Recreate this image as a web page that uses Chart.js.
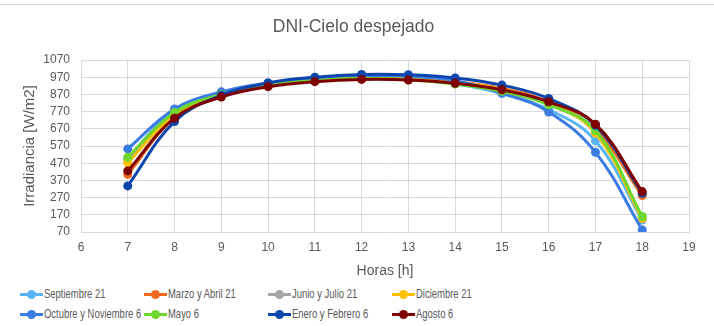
<!DOCTYPE html>
<html>
<head>
<meta charset="utf-8">
<script src="https://cdn.jsdelivr.net/npm/chart.js@4"></script>
<style>
  body { margin: 0; background: #fff; }
  #wrap { position: relative; width: 714px; height: 326px; background: #fff; }
  #topline { position: absolute; left: 0; top: 4px; width: 714px; height: 0; border-top: 1px solid #d9d9d9; }
  #c { position: absolute; left: 0; top: 0; }
  #legend { position: absolute; left: 0; top: 284px; width: 714px; height: 40px;
    font-family: "Liberation Sans", Arial, sans-serif; font-size: 13.5px; color: #595959; }
  .item { position: absolute; height: 20px; line-height: 20px; white-space: nowrap; }
  .mark { position: absolute; left: 0; top: 9px; width: 23px; height: 3px; }
  .dot { position: absolute; left: 7px; top: 6px; width: 9px; height: 9px; border-radius: 50%; }
  .txt { position: absolute; left: 24px; top: 0; transform: scaleX(0.7); transform-origin: left center; }
</style>
</head>
<body>
<div id="wrap">
  <div id="topline"></div>
  <canvas id="c" width="714" height="282"></canvas>
  <div id="legend"></div>
</div>
<script>
// horas del dia
const horas = [7, 8, 9, 10, 11, 12, 13, 14, 15, 16, 17, 18];

const series = ['Septiembre 21', 'Marzo y Abril 21', 'Junio y Julio 21', 'Diciembre 21',
  'Octubre y Noviembre 6', 'Mayo 6', 'Enero y Febrero 6', 'Agosto 6'];

const septiembre21 = [500, 775, 875, 930, 958, 970, 962, 932, 875, 782, 600, 140];
const marzoAbril21 = [405, 735, 860, 920, 950, 964, 960, 943, 905, 826, 665, 282];
const junioJulio21 = [490, 760, 870, 925, 955, 966, 960, 938, 895, 815, 650, 145];
const diciembre21 = [472, 750, 866, 926, 955, 968, 964, 944, 900, 820, 645, 150];
const octubreNov6 = [553, 785, 885, 937, 966, 980, 975, 950, 878, 768, 533, 82];
const mayo6 = [505, 765, 870, 925, 950, 962, 955, 930, 888, 810, 660, 160];
const eneroFebrero6 = [338, 712, 865, 936, 970, 986, 984, 966, 924, 846, 690, 295];
const agosto6 = [425, 732, 855, 915, 944, 957, 954, 935, 897, 827, 697, 305];

const valores = [septiembre21, marzoAbril21, junioJulio21, diciembre21,
  octubreNov6, mayo6, eneroFebrero6, agosto6];

const colores = ['#5ab4f3', '#f06a1e', '#a5a5a5', '#ffc000',
  '#3b7be4', '#6fd72c', '#0c46ad', '#7e0000'];

const yTicks = { min: 70, max: 1070, step: 100 };
const xTicks = { min: 6, max: 19, step: 1 };

const gris = '#595959';
const rejilla = '#d9d9d9';

const datasets = series.map((name, i) => ({
  label: name,
  data: horas.map((h, j) => ({ x: h, y: valores[i][j] })),
  borderColor: colores[i],
  backgroundColor: colores[i],
  pointBackgroundColor: colores[i],
  pointBorderColor: colores[i],
  pointRadius: 4.5,
  pointBorderWidth: 0,
  borderWidth: 3,
  tension: 0.4,
  fill: false,
  order: series.length - i
}));

new Chart(document.getElementById('c').getContext('2d'), {
  type: 'line',
  data: { datasets },
  options: {
    responsive: false,
    animation: false,
    layout: { padding: { left: 18, right: 25, top: 0, bottom: 2 } },
    plugins: {
      legend: { display: false },
      tooltip: { enabled: false },
      title: {
        display: true,
        text: 'DNI-Cielo despejado',
        color: gris,
        font: { family: 'Liberation Sans', size: 17.5, weight: 'normal' },
        padding: { top: 17, bottom: 22 }
      }
    },
    scales: {
      x: {
        type: 'linear',
        min: xTicks.min,
        max: xTicks.max,
        ticks: { stepSize: xTicks.step, autoSkip: false, color: gris,
          font: { family: 'Liberation Sans', size: 12 }, padding: 8,
          callback: v => String(v) },
        grid: { color: rejilla, drawTicks: false },
        border: { color: rejilla },
        title: { display: true, text: 'Horas [h]', color: gris,
          font: { family: 'Liberation Sans', size: 14 }, padding: { top: 5, bottom: 0 } },
        afterFit: s => { s.height = 48; }
      },
      y: {
        min: yTicks.min,
        max: yTicks.max,
        ticks: { stepSize: yTicks.step, autoSkip: false, color: gris,
          font: { family: 'Liberation Sans', size: 12 }, padding: 11,
          callback: v => String(v) },
        grid: { color: rejilla, drawTicks: false },
        border: { color: rejilla },
        title: { display: true, text: 'Irradiancia [W/m2]', color: gris,
          font: { family: 'Liberation Sans', size: 15 }, padding: { top: 3, bottom: 0 } },
        afterFit: s => { s.width = 63; }
      }
    }
  }
});

// leyenda en 2 filas x 4 columnas, como en Excel
const legend = document.getElementById('legend');
const colX = [20, 144, 268, 392];
series.forEach((name, i) => {
  const el = document.createElement('div');
  el.className = 'item';
  el.style.left = colX[i % 4] + 'px';
  el.style.top = (i < 4 ? 0 : 20) + 'px';
  el.innerHTML = `<span class="mark" style="background:${colores[i]}"></span>` +
    `<span class="dot" style="background:${colores[i]}"></span>` +
    `<span class="txt">${name}</span>`;
  legend.appendChild(el);
});
</script>
</body>
</html>
